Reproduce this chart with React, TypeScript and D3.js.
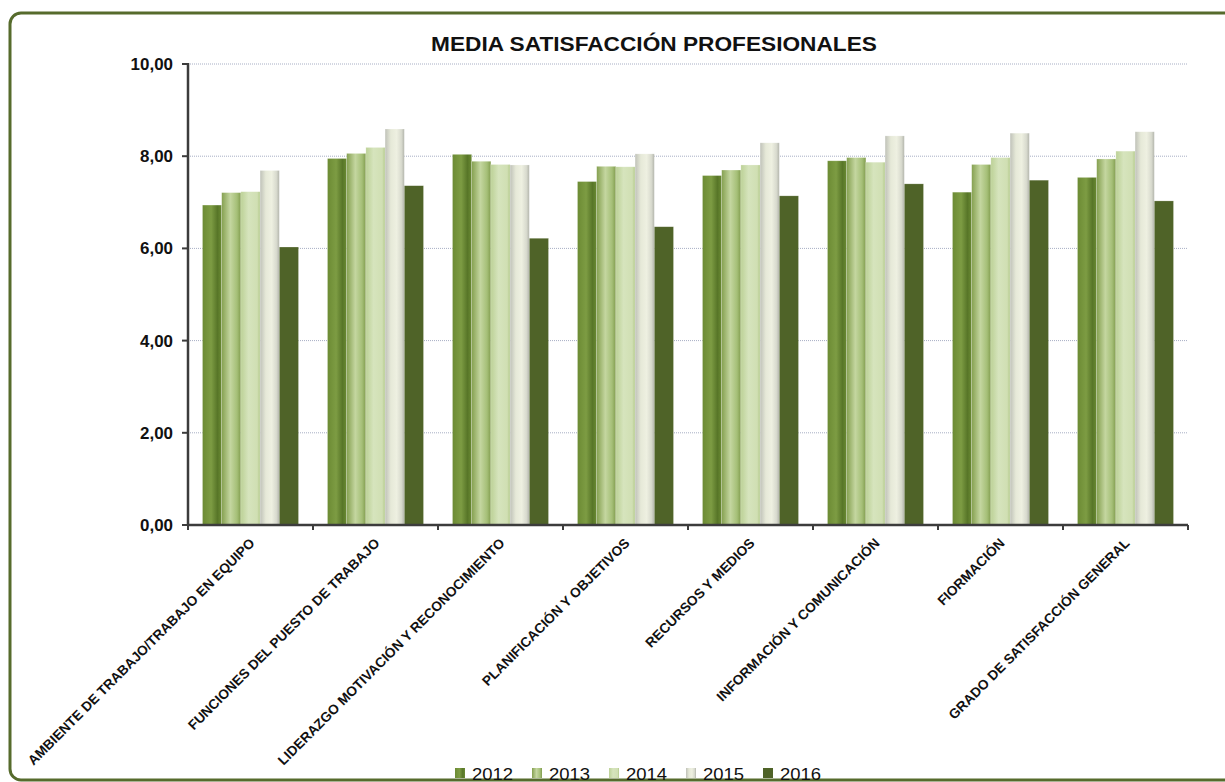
import React from "react";
import * as d3 from "d3";

const title = "MEDIA SATISFACCIÓN PROFESIONALES";
const categories = [
  "AMBIENTE DE TRABAJO/TRABAJO EN EQUIPO",
  "FUNCIONES DEL PUESTO DE TRABAJO",
  "LIDERAZGO MOTIVACIÓN Y RECONOCIMIENTO",
  "PLANIFICACIÓN Y OBJETIVOS",
  "RECURSOS Y MEDIOS",
  "INFORMACIÓN Y COMUNICACIÓN",
  "FIORMACIÓN",
  "GRADO DE SATISFACCIÓN GENERAL",
];
const years = ["2012", "2013", "2014", "2015", "2016"];
const v2012 = [6.94, 7.95, 8.04, 7.45, 7.58, 7.9, 7.22, 7.54];
const v2013 = [7.21, 8.06, 7.89, 7.78, 7.7, 7.97, 7.82, 7.94];
const v2014 = [7.23, 8.19, 7.82, 7.77, 7.81, 7.87, 7.97, 8.11];
const v2015 = [7.69, 8.59, 7.81, 8.05, 8.29, 8.44, 8.5, 8.53];
const v2016 = [6.03, 7.36, 6.22, 6.47, 7.14, 7.4, 7.48, 7.03];
const seriesValues = [v2012, v2013, v2014, v2015, v2016];
const yTicks = [0, 2, 4, 6, 8, 10];

const gradients: { id: string; stops: [number, string][] }[] = [
  { id: "g2012", stops: [[0, "#6c8b34"], [0.45, "#7d9c43"], [0.78, "#587628"], [1, "#6a8a33"]] },
  { id: "g2013", stops: [[0, "#85a050"], [0.45, "#c4d6a0"], [0.8, "#a5bf77"], [1, "#819c4e"]] },
  { id: "g2014", stops: [[0, "#bcd196"], [0.4, "#d6e4bd"], [0.85, "#d0dfb3"], [1, "#b3c98a"]] },
  { id: "g2015", stops: [[0, "#bfc1b8"], [0.3, "#e6e9d8"], [0.6, "#eef0e1"], [0.85, "#d8dace"], [1, "#b4b6ad"]] },
  { id: "g2016", stops: [[0, "#4f6328"], [1, "#4f6328"]] },
];

const W = 1225;
const H = 782;
const left = 188;
const right = 1188;
const top = 64;
const bottom = 525;
const font = "Arial, 'Liberation Sans', sans-serif";

export default function App() {
  const x = d3.scaleBand<string>().domain(categories).range([left, right]).paddingInner(0.232).paddingOuter(0.116);
  const xs = d3.scaleBand<string>().domain(years).range([0, x.bandwidth()]).padding(0);
  const y = d3.scaleLinear().domain([0, 10]).range([bottom, top]);
  const step = x.step();
  const boundaries = d3.range(categories.length + 1).map((i) => left + i * step);
  const fmt = (v: number) => v.toFixed(2).replace(".", ",");

  const legendX0 = 455;
  const legendStep = 77;

  return (
    <svg width={W} height={H} style={{ position: "absolute", left: 0, top: 0 }} xmlns="http://www.w3.org/2000/svg">
      <defs>
        {gradients.map((g) => (
          <linearGradient key={g.id} id={g.id} x1="0" x2="1" y1="0" y2="0">
            {g.stops.map(([o, c], i) => (
              <stop key={i} offset={o} stopColor={c} />
            ))}
          </linearGradient>
        ))}
      </defs>
      <rect x={0} y={0} width={W} height={H} fill="#ffffff" />
      <rect x={10} y={13} width={W + 20} height={767} rx={11} ry={11} fill="#ffffff" stroke="#566b2c" strokeWidth={3} />

      <text transform="translate(654,51) scale(1.08,1)" textAnchor="middle" fontFamily={font} fontWeight="bold" fontSize={21} fill="#111">
        {title}
      </text>

      {yTicks.filter((t) => t > 0).map((t) => (
        <line key={t} x1={left} x2={right} y1={y(t)} y2={y(t)} stroke="#a7aec4" strokeWidth={1} strokeDasharray="1 1" />
      ))}

      {categories.map((c, ci) => (
        <g key={c}>
          {years.map((yr, si) => {
            const v = seriesValues[si][ci];
            const bx = (x(c) as number) + (xs(yr) as number);
            return (
              <rect
                key={yr}
                x={bx}
                y={y(v)}
                width={xs.bandwidth()}
                height={y(0) - y(v)}
                fill={`url(#${gradients[si].id})`}
                stroke="#ffffff"
                strokeOpacity={0.35}
                strokeWidth={0.6}
              />
            );
          })}
        </g>
      ))}

      {/* axes */}
      <line x1={left} x2={left} y1={top - 1} y2={bottom + 1} stroke="#3c3c3c" strokeWidth={2.5} />
      <line x1={left - 1} x2={right} y1={bottom} y2={bottom} stroke="#3c3c3c" strokeWidth={2.5} />
      {yTicks.map((t) => (
        <line key={t} x1={left - 6} x2={left} y1={y(t)} y2={y(t)} stroke="#3c3c3c" strokeWidth={2} />
      ))}
      {boundaries.map((b, i) => (
        <line key={i} x1={b} x2={b} y1={bottom} y2={bottom + 5} stroke="#3c3c3c" strokeWidth={2} />
      ))}
      {yTicks.map((t) => (
        <text key={t} transform={`translate(173,${y(t) + 6}) scale(1.06,1)`} textAnchor="end" fontFamily={font} fontWeight="bold" fontSize={16} fill="#111">
          {fmt(t)}
        </text>
      ))}

      {categories.map((c) => {
        const cx = (x(c) as number) + x.bandwidth() / 2 + 5;
        const cy = bottom + 19;
        return (
          <text
            key={c}
            transform={`translate(${cx},${cy}) rotate(-45)`}
            textAnchor="end"
            fontFamily={font}
            fontWeight="bold"
            fontSize={13.7}
            fill="#111"
          >
            {c}
          </text>
        );
      })}

      {years.map((yr, i) => (
        <g key={yr} transform={`translate(${legendX0 + i * legendStep},0)`}>
          <rect x={0} y={768} width={10} height={10} fill={`url(#${gradients[i].id})`} />
          <text transform="translate(17,779.5) scale(1.12,1)" fontFamily={font} fontSize={16.5} fill="#111">
            {yr}
          </text>
        </g>
      ))}
    </svg>
  );
}
